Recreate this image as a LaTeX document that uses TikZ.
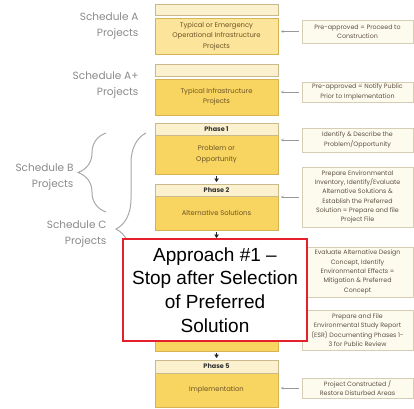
\documentclass[tikz,border=0pt]{standalone}
\usepackage{fontspec}
\setmainfont{Poppins}
\newfontfamily\arialfont{Liberation Sans}
\usetikzlibrary{positioning,arrows.meta,decorations.pathreplacing}

\definecolor{headfill}{HTML}{FBF1CF}
\definecolor{headline}{HTML}{C9B98B}
\definecolor{mainfill}{HTML}{F8D461}
\definecolor{lightfill}{HTML}{FCE49A}
\definecolor{mainline}{HTML}{D6B452}
\definecolor{boxtext}{HTML}{6B5426}
\definecolor{notefill}{HTML}{FDFAEE}
\definecolor{noteline}{HTML}{D5CDB5}
\definecolor{notetext}{HTML}{5C5242}
\definecolor{labelgray}{HTML}{8A8A8A}
\definecolor{bracegray}{HTML}{A8A8A8}
\definecolor{approachred}{HTML}{E3202B}

\begin{document}
\begin{tikzpicture}[
    x=1pt, y=-1pt,
    headnode/.style={rectangle, draw=headline, fill=headfill, line width=0.8pt, minimum width=123pt, inner sep=0pt, outer sep=0pt, font=\fontsize{6.5}{8}\selectfont\bfseries, text=black!80},
    mainnode/.style={rectangle, draw=mainline, fill=mainfill, line width=0.8pt, minimum width=123pt, inner sep=0pt, outer sep=0pt, align=center, font=\fontsize{6.8}{10.5}\selectfont, text=boxtext},
    notenode/.style={rectangle, draw=noteline, fill=notefill, line width=0.6pt, minimum width=111pt, inner sep=0pt, align=center, font=\fontsize{6.3}{9.3}\selectfont, text=notetext},
    schedlabel/.style={anchor=east, align=right, font=\fontsize{10.5}{15.5}\selectfont, text=labelgray},
    feedline/.style={draw=black!40, line width=0.6pt, -{Stealth[length=2.5pt,width=2.5pt]}, shorten <=3pt, shorten >=3pt},
    stepline/.style={draw=black!85, line width=0.6pt, -{Triangle[length=3.5pt,width=4.5pt]}, shorten <=2pt, shorten >=2pt},
    curly/.style={draw=bracegray, line width=1pt, decorate, decoration={brace, amplitude=#1}}
    ]
        \useasboundingbox (0,0) rectangle (414,408);

        %Schedule boxes
        \node[mainnode, fill=lightfill, minimum height=36pt]
            (aMain)     at (216.5,36)   {Typical or Emergency\\Operational Infrastructure\\Projects};
        \node[headnode, minimum height=11pt]
            (aHead)     [above=3pt of aMain]    {};
        \node[mainnode, minimum height=36pt]
            (apMain)    at (216.5,97)   {Typical Infrastructure\\Projects};
        \node[headnode, minimum height=12pt]
            (apHead)    [above=3pt of apMain]   {};

        %Phase boxes
        \node[mainnode, minimum height=39pt]
            (p1Main)    at (216.5,154.5) {Problem or\\Opportunity};
        \node[headnode, minimum height=12pt]
            (p1Head)    [above=0pt of p1Main]   {Phase 1};
        \node[mainnode, minimum height=34pt]
            (p2Main)    at (216.5,213)  {Alternative Solutions};
        \node[headnode, minimum height=12pt]
            (p2Head)    [above=0pt of p2Main]   {Phase 2};
        \node[mainnode, minimum height=40pt]
            (p3Main)    at (216.5,272)  {};
        \node[headnode, minimum height=12pt]
            (p3Head)    [above=0pt of p3Main]   {};
        \node[mainnode, minimum height=37pt]
            (p4Main)    at (216.5,332.5) {};
        \node[headnode, minimum height=12pt]
            (p4Head)    [above=0pt of p4Main]   {};
        \node[mainnode, minimum height=34pt]
            (p5Main)    at (216.5,390)  {Implementation};
        \node[headnode, minimum height=13pt]
            (p5Head)    [above=0pt of p5Main]   {Phase 5};

        %Notes
        \node[notenode, minimum height=23pt]
            (rA)    at (357.5,31.5) {Pre-approved = Proceed to\\Construction};
        \node[notenode, minimum height=20pt]
            (rAp)   at (357.5,92)   {Pre-approved = Notify Public\\Prior to Implementation};
        \node[notenode, minimum height=24pt]
            (r1)    at (357.5,140)  {Identify \& Describe the\\Problem/Opportunity};
        \node[notenode, minimum height=60pt]
            (r2)    at (357.5,197)  {Prepare Environmental\\Inventory, Identify/Evaluate\\Alternative Solutions \&\\Establish the Preferred\\Solution = Prepare and file\\Project File};
        \node[notenode, minimum height=50pt]
            (r3)    at (357.5,272)  {Evaluate Alternative Design\\Concept, Identify\\Environmental Effects =\\Mitigation \& Preferred\\Concept};
        \node[notenode, minimum height=40pt]
            (r4)    at (357.5,330)  {Prepare and File\\Environmental Study Report\\(ESR) Documenting Phases 1-\\3 for Public Review};
        \node[notenode, minimum height=20pt]
            (r5)    at (357.5,388)  {Project Constructed /\\Restore Disturbed Areas};

        %Schedule labels
        \node[schedlabel]   (lA)    at (142,26)     {Schedule A\\Projects};
        \node[schedlabel]   (lAp)   at (142,85)     {Schedule A+\\Projects};
        \node[schedlabel]   (lB)    at (77,177)     {Schedule B\\Projects};
        \node[schedlabel]   (lC)    at (110,234)    {Schedule C\\Projects};

        %Braces
        \coordinate (bTop)  at (106,133);
        \coordinate (bBot)  at (106,212);
        \coordinate (cTop)  at (146,133);
        \coordinate (cBot)  at (146,325);
        \draw[curly=28pt] (bBot) -- (bTop);
        \draw[curly=30pt] (cBot) -- (cTop);

        %Lines
        \draw[feedline] (rA.west)  -- (rA.west -| aMain.east);
        \draw[feedline] (rAp.west) -- (rAp.west -| apMain.east);
        \draw[feedline] (r1.west)  -- (r1.west -| p1Main.east);
        \draw[feedline] (r2.west)  -- (r2.west -| p2Main.east);
        \draw[feedline] (r3.west)  -- (r3.west -| p3Main.east);
        \draw[feedline] (r4.west)  -- (r4.west -| p4Main.east);
        \draw[feedline] (r5.west)  -- (r5.west -| p5Main.east);
        \draw[stepline] (p1Main.south) -- (p2Head.north);
        \draw[stepline] (p2Main.south) -- (p3Head.north);
        \draw[stepline] (p3Main.south) -- (p4Head.north);
        \draw[stepline] (p4Main.south) -- (p5Head.north);

        %Approach box
        \node[rectangle, draw=approachred, fill=white, line width=2pt, minimum width=184pt, minimum height=102pt, align=center, font=\arialfont\fontsize{19}{23.7}\selectfont]
            (approach)  at (215,290)    {Approach \#1 –\\Stop after Selection\\of Preferred\\Solution};
    \end{tikzpicture}
\end{document}
